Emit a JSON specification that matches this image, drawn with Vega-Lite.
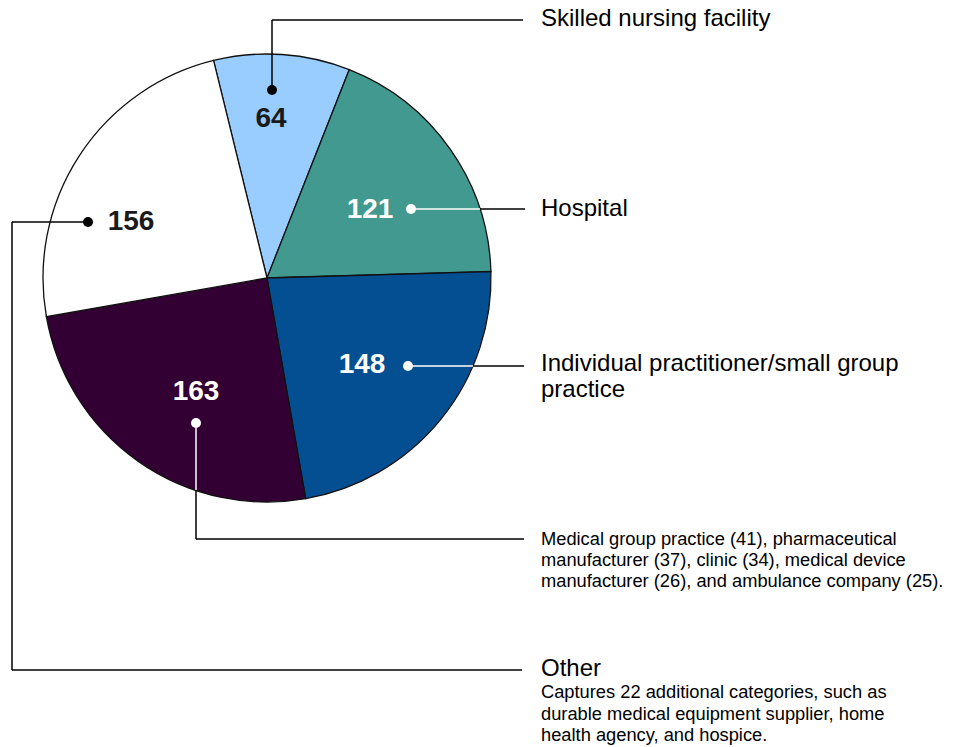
{
  "$schema": "https://vega.github.io/schema/vega-lite/v6.json",
  "width": 967,
  "height": 747,
  "autosize": {"type": "fit", "contains": "padding"},
  "padding": 0,
  "background": "white",
  "config": {"view": {"stroke": null}, "text": {"font": "Liberation Sans"}},
  "datasets": {
    "slices": [
      {"category": "Skilled nursing facility", "value": 64, "ord": 1},
      {"category": "Hospital", "value": 121, "ord": 2},
      {"category": "Individual practitioner/small group practice", "value": 148, "ord": 3},
      {"category": "Medical group practice, pharmaceutical manufacturer, clinic, medical device manufacturer, ambulance company", "value": 163, "ord": 4},
      {"category": "Other", "value": 156, "ord": 5}
    ],
    "numbers": [
      {"value": 64, "x": 271, "y": 119, "onDark": false},
      {"value": 121, "x": 370, "y": 210, "onDark": true},
      {"value": 148, "x": 362, "y": 365, "onDark": true},
      {"value": 163, "x": 196, "y": 392, "onDark": true},
      {"value": 156, "x": 131, "y": 222, "onDark": false}
    ],
    "dots": [
      {"value": 64, "x": 272, "y": 90, "onDark": false},
      {"value": 121, "x": 411, "y": 209, "onDark": true},
      {"value": 148, "x": 408, "y": 366, "onDark": true},
      {"value": 163, "x": 196, "y": 423, "onDark": true},
      {"value": 156, "x": 88, "y": 222, "onDark": false}
    ],
    "segments": [
      {"x": 272, "y": 90, "x2": 272, "y2": 20, "onDark": false},
      {"x": 272, "y": 20, "x2": 523, "y2": 20, "onDark": false},
      {"x": 411, "y": 209, "x2": 480, "y2": 209, "onDark": true},
      {"x": 480, "y": 209, "x2": 525, "y2": 209, "onDark": false},
      {"x": 408, "y": 366, "x2": 473, "y2": 366, "onDark": true},
      {"x": 473, "y": 366, "x2": 524, "y2": 366, "onDark": false},
      {"x": 196, "y": 423, "x2": 196, "y2": 490, "onDark": true},
      {"x": 196, "y": 490, "x2": 196, "y2": 539, "onDark": false},
      {"x": 196, "y": 539, "x2": 524, "y2": 539, "onDark": false},
      {"x": 88, "y": 222, "x2": 12, "y2": 222, "onDark": false},
      {"x": 12, "y": 222, "x2": 12, "y2": 670, "onDark": false},
      {"x": 12, "y": 670, "x2": 522, "y2": 670, "onDark": false}
    ],
    "labels": [
      {"text": "Skilled nursing facility", "x": 541, "y": 19},
      {"text": "Hospital", "x": 541, "y": 209},
      {"text": "Individual practitioner/small group", "x": 541, "y": 364},
      {"text": "practice", "x": 541, "y": 390},
      {"text": "Other", "x": 541, "y": 669}
    ],
    "notes": [
      {"text": "Medical group practice (41), pharmaceutical", "x": 541, "y": 540},
      {"text": "manufacturer (37), clinic (34), medical device", "x": 541, "y": 561},
      {"text": "manufacturer (26), and ambulance company (25).", "x": 541, "y": 582},
      {"text": "Captures 22 additional categories, such as", "x": 541, "y": 693},
      {"text": "durable medical equipment supplier, home", "x": 541, "y": 715},
      {"text": "health agency, and hospice.", "x": 541, "y": 736}
    ]
  },
  "layer": [
    {
      "data": {"name": "slices"},
      "mark": {"type": "arc", "radius": 224, "stroke": "#111111", "strokeWidth": 1.3},
      "encoding": {
        "x": {"datum": 267, "type": "quantitative", "scale": {"domain": [0, 967], "nice": false, "zero": false}, "axis": null},
        "y": {"datum": 278, "type": "quantitative", "scale": {"domain": [0, 747], "nice": false, "zero": false, "reverse": true}, "axis": null},
        "theta": {"field": "value", "type": "quantitative", "stack": true, "scale": {"range": [-0.2409, 6.0423]}},
        "order": {"field": "ord", "type": "quantitative"},
        "color": {
          "field": "category",
          "type": "nominal",
          "sort": {"field": "ord"},
          "scale": {
            "domain": ["Skilled nursing facility", "Hospital", "Individual practitioner/small group practice", "Medical group practice, pharmaceutical manufacturer, clinic, medical device manufacturer, ambulance company", "Other"],
            "range": ["#99CCFF", "#41998F", "#034F91", "#330033", "#FFFFFF"]
          },
          "legend": null
        }
      }
    },
    {
      "data": {"name": "segments"},
      "mark": {"type": "rule", "strokeWidth": 1.5},
      "encoding": {
        "x": {"field": "x", "type": "quantitative"},
        "y": {"field": "y", "type": "quantitative"},
        "x2": {"field": "x2"},
        "y2": {"field": "y2"},
        "color": {"condition": {"test": "datum.onDark", "value": "#FFFFFF"}, "value": "#000000"}
      }
    },
    {
      "data": {"name": "dots"},
      "mark": {"type": "point", "shape": "circle", "filled": true, "size": 100, "opacity": 1},
      "encoding": {
        "x": {"field": "x", "type": "quantitative"},
        "y": {"field": "y", "type": "quantitative"},
        "color": {"condition": {"test": "datum.onDark", "value": "#FFFFFF"}, "value": "#000000"}
      }
    },
    {
      "data": {"name": "numbers"},
      "mark": {"type": "text", "fontSize": 28, "fontWeight": "bold", "align": "center", "baseline": "middle", "font": "Liberation Sans"},
      "encoding": {
        "x": {"field": "x", "type": "quantitative"},
        "y": {"field": "y", "type": "quantitative"},
        "text": {"field": "value", "type": "quantitative"},
        "color": {"condition": {"test": "datum.onDark", "value": "#FFFFFF"}, "value": "#1a1a1a"}
      }
    },
    {
      "data": {"name": "labels"},
      "mark": {"type": "text", "fontSize": 24, "align": "left", "baseline": "middle", "color": "#000000", "font": "Liberation Sans"},
      "encoding": {
        "x": {"field": "x", "type": "quantitative"},
        "y": {"field": "y", "type": "quantitative"},
        "text": {"field": "text", "type": "nominal"}
      }
    },
    {
      "data": {"name": "notes"},
      "mark": {"type": "text", "fontSize": 18.3, "align": "left", "baseline": "middle", "color": "#000000", "font": "Liberation Sans"},
      "encoding": {
        "x": {"field": "x", "type": "quantitative"},
        "y": {"field": "y", "type": "quantitative"},
        "text": {"field": "text", "type": "nominal"}
      }
    }
  ]
}
